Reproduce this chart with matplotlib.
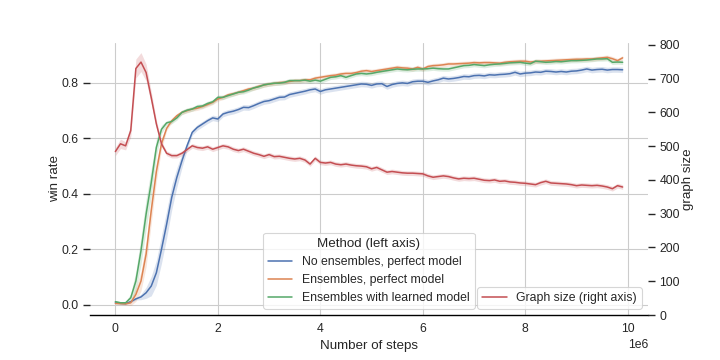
import numpy as np
import matplotlib
matplotlib.use("Agg")
import matplotlib.pyplot as plt
import seaborn as sns

# training steps, one point every 1e5
steps = np.arange(100) * 1e5

no_ens = [0.008, 0.006, 0.005, 0.012, 0.022, 0.029, 0.044, 0.068, 0.116, 0.200,
          0.290, 0.387, 0.459, 0.519, 0.573, 0.621, 0.639, 0.651, 0.663, 0.673,
          0.669, 0.687, 0.693, 0.697, 0.703, 0.711, 0.710, 0.717, 0.725, 0.732,
          0.735, 0.741, 0.747, 0.748, 0.757, 0.761, 0.765, 0.769, 0.774, 0.777,
          0.768, 0.774, 0.777, 0.780, 0.783, 0.786, 0.789, 0.792, 0.795, 0.794,
          0.790, 0.795, 0.796, 0.786, 0.793, 0.797, 0.799, 0.797, 0.803, 0.805,
          0.805, 0.801, 0.806, 0.810, 0.816, 0.813, 0.815, 0.818, 0.822, 0.821,
          0.825, 0.826, 0.824, 0.828, 0.827, 0.829, 0.830, 0.832, 0.837, 0.831,
          0.834, 0.835, 0.838, 0.837, 0.841, 0.840, 0.838, 0.840, 0.838, 0.841,
          0.842, 0.845, 0.849, 0.845, 0.847, 0.848, 0.845, 0.847, 0.847, 0.846]

ens_perfect = [0.006, 0.005, 0.004, 0.008, 0.038, 0.086, 0.183, 0.339, 0.480, 0.580,
               0.635, 0.663, 0.681, 0.693, 0.699, 0.705, 0.708, 0.714, 0.721, 0.729,
               0.741, 0.747, 0.756, 0.760, 0.765, 0.771, 0.777, 0.780, 0.787, 0.791,
               0.795, 0.797, 0.800, 0.801, 0.804, 0.807, 0.807, 0.810, 0.810, 0.816,
               0.819, 0.822, 0.825, 0.827, 0.831, 0.833, 0.833, 0.836, 0.841, 0.843,
               0.840, 0.843, 0.846, 0.849, 0.852, 0.855, 0.853, 0.852, 0.849, 0.855,
               0.849, 0.858, 0.861, 0.862, 0.864, 0.867, 0.867, 0.868, 0.869, 0.870,
               0.872, 0.871, 0.872, 0.872, 0.871, 0.870, 0.873, 0.875, 0.876, 0.877,
               0.877, 0.874, 0.876, 0.877, 0.878, 0.879, 0.880, 0.881, 0.882, 0.883,
               0.884, 0.884, 0.885, 0.885, 0.887, 0.889, 0.891, 0.886, 0.879, 0.889]

ens_learned = [0.012, 0.008, 0.008, 0.026, 0.086, 0.195, 0.327, 0.440, 0.567, 0.632,
               0.655, 0.660, 0.673, 0.693, 0.701, 0.705, 0.714, 0.716, 0.725, 0.731,
               0.747, 0.747, 0.753, 0.759, 0.765, 0.767, 0.773, 0.781, 0.785, 0.792,
               0.795, 0.798, 0.798, 0.801, 0.807, 0.807, 0.807, 0.809, 0.805, 0.809,
               0.805, 0.812, 0.819, 0.821, 0.825, 0.819, 0.825, 0.831, 0.833, 0.831,
               0.833, 0.837, 0.840, 0.843, 0.846, 0.849, 0.847, 0.846, 0.848, 0.849,
               0.849, 0.850, 0.852, 0.850, 0.849, 0.849, 0.853, 0.857, 0.861, 0.862,
               0.865, 0.863, 0.861, 0.864, 0.866, 0.867, 0.869, 0.871, 0.872, 0.873,
               0.870, 0.868, 0.877, 0.875, 0.873, 0.874, 0.876, 0.875, 0.877, 0.879,
               0.879, 0.880, 0.881, 0.883, 0.885, 0.885, 0.886, 0.873, 0.874, 0.873]

graph_size = [484, 507, 501, 546, 730, 749, 718, 644, 566, 507,
              479, 472, 472, 479, 490, 501, 496, 494, 498, 491,
              496, 501, 498, 491, 487, 491, 485, 479, 475, 470,
              475, 469, 470, 467, 464, 462, 464, 459, 447, 464,
              452, 450, 452, 447, 445, 447, 444, 442, 441, 439,
              433, 437, 430, 423, 425, 423, 421, 420, 420, 419,
              418, 412, 408, 410, 412, 410, 406, 403, 405, 404,
              405, 402, 399, 398, 400, 396, 397, 394, 393, 391,
              390, 388, 386, 392, 396, 391, 390, 389, 388, 386,
              383, 385, 384, 383, 384, 382, 379, 374, 383, 379]

# half widths of the shaded bands
no_ens_err = [0.004]*5 + [0.01, 0.02, 0.035, 0.045, 0.05, 0.05, 0.045, 0.035, 0.025, 0.015] + [0.01]*85
ens_perfect_err = [0.004]*3 + [0.01, 0.025, 0.035, 0.045, 0.045, 0.035, 0.02] + [0.008]*90
ens_learned_err = [0.004]*3 + [0.015, 0.035, 0.05, 0.055, 0.05, 0.03, 0.015] + [0.008]*90
graph_err = [12, 14, 12, 18, 28, 28, 25, 18, 12] + [7]*91

x_ticks = [0, 2e6, 4e6, 6e6, 8e6, 10e6]

blue, orange, green, red = "#4C72B0", "#DD8452", "#55A868", "#C44E52"

sns.set_theme(style="whitegrid", context="paper",
              rc={"ytick.left": True, "ytick.right": True})
plt.rcParams['font.family'] = ['Liberation Sans', 'DejaVu Sans']

fig, ax = plt.subplots(figsize=(7.2, 3.6), dpi=100)
fig.subplots_adjust(left=0.125, right=0.9, bottom=0.125, top=0.881)

series = [(no_ens, no_ens_err, blue, "No ensembles, perfect model"),
          (ens_perfect, ens_perfect_err, orange, "Ensembles, perfect model"),
          (ens_learned, ens_learned_err, green, "Ensembles with learned model")]
for vals, err, col, lab in series:
    v = np.array(vals)
    e = np.array(err)
    ax.fill_between(steps, v - e, v + e, color=col, alpha=0.2, linewidth=0)
    ax.plot(steps, v, color=col, lw=1.1, label=lab)

ax.set_xlim(-0.495e6, 10.395e6)
ax.set_ylim(-0.036, 0.943)
ax.set_xticks(x_ticks)
ax.ticklabel_format(axis="x", style="sci", scilimits=(6, 6))
ax.set_yticks([0.0, 0.2, 0.4, 0.6, 0.8])
ax.set_xlabel("Number of steps", fontsize=9.6)
ax.set_ylabel("win rate", fontsize=9.6, labelpad=0.5)
for s in ["left", "top", "right"]:
    ax.spines[s].set_visible(False)
ax.spines["bottom"].set_color("black")
ax.tick_params(axis="y", right=False)
ax.tick_params(axis="x", length=0, pad=5.6)
leg = ax.legend(loc="lower center", title="Method (left axis)", fontsize=8.8,
                title_fontsize=9.6)

ax2 = ax.twinx()
g = np.array(graph_size)
ge = np.array(graph_err)
ax2.fill_between(steps, g - ge, g + ge, color=red, alpha=0.2, linewidth=0)
ax2.plot(steps, g, color=red, lw=1.1, label="Graph size (right axis)")
ax2.set_ylim(0, 806)
ax2.set_yticks([0, 100, 200, 300, 400, 500, 600, 700, 800])
ax2.grid(False)
ax2.set_ylabel("graph size", fontsize=9.6, labelpad=1.5)
for s in ["left", "top", "right", "bottom"]:
    ax2.spines[s].set_visible(False)
ax2.tick_params(axis="y", left=False, right=True)
ax2.legend(loc="lower right", fontsize=8.8)

plt.savefig("out.png", dpi=100)
